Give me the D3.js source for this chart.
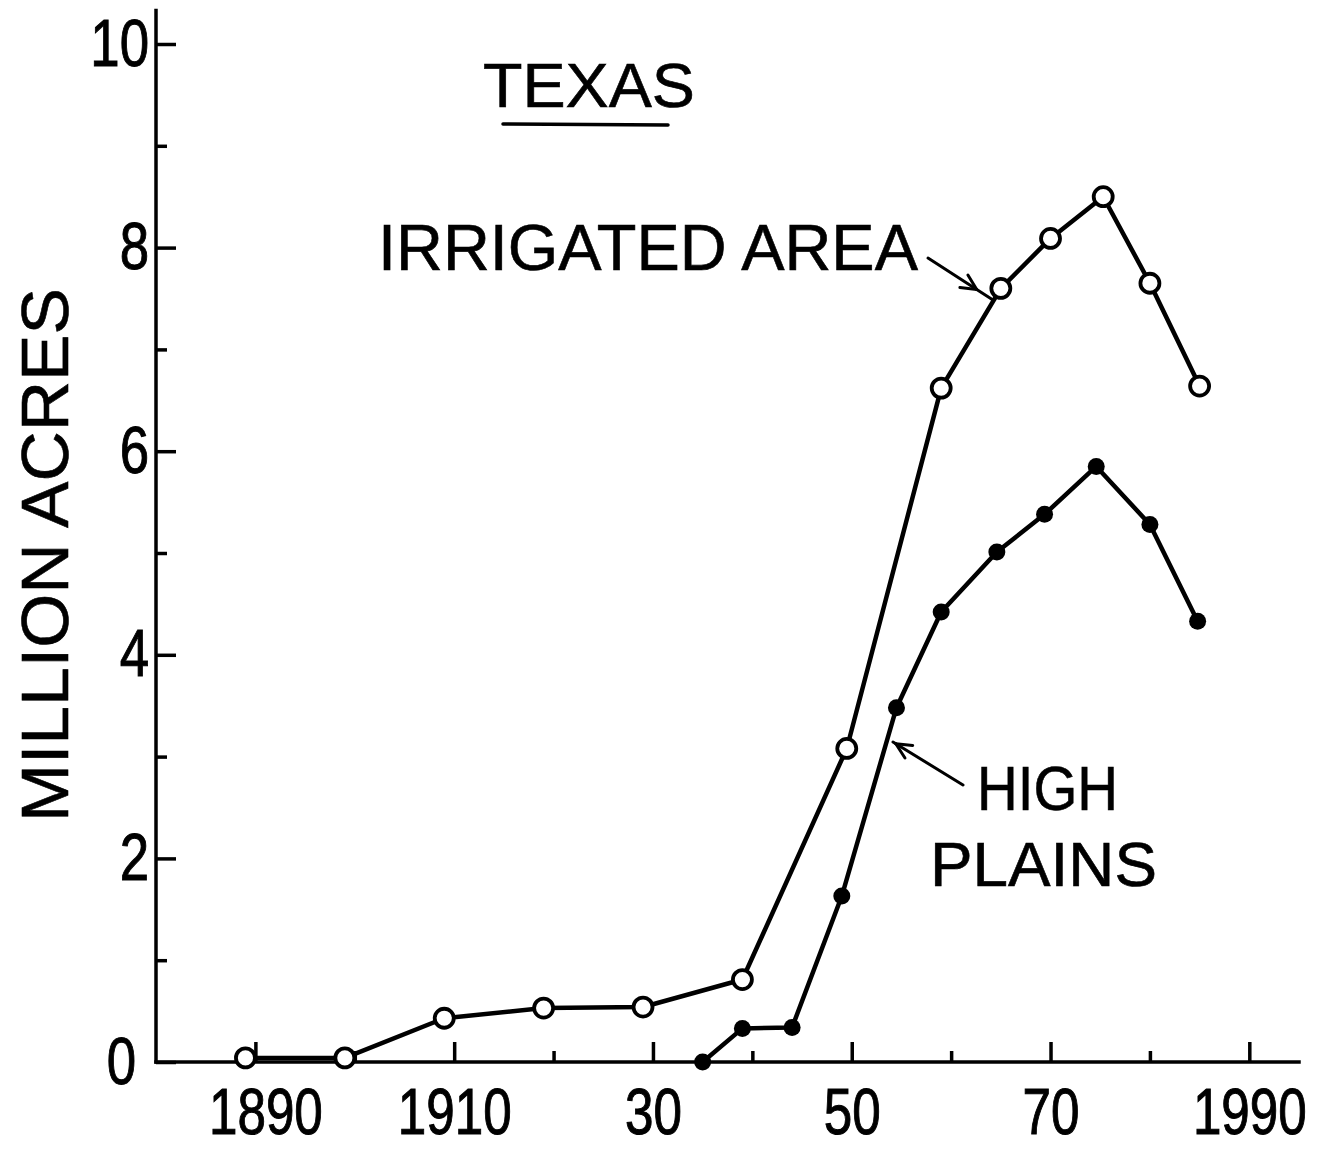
<!DOCTYPE html>
<html>
<head>
<meta charset="utf-8">
<script src="https://cdn.jsdelivr.net/npm/d3@7"></script>
<style>
  html, body { margin: 0; padding: 0; background: #fff; }
  svg { display: block; }
  text { font-family: "Liberation Sans", Arial, sans-serif; fill: #000; }
</style>
</head>
<body>
<svg id="chart" width="1321" height="1151"></svg>
<script>
// ---- Data ----
const irrigatedYears  = [1889, 1899, 1909, 1919, 1929, 1939, 1949.5, 1959, 1965, 1970, 1975.3, 1980, 1985];
const irrigatedValues = [0.04, 0.04, 0.43, 0.53, 0.54, 0.81, 3.08, 6.62, 7.6, 8.09, 8.5, 7.65, 6.64];
const highPlainsYears  = [1935, 1939, 1944, 1949, 1954.5, 1959, 1964.6, 1969.4, 1974.6, 1980, 1984.8];
const highPlainsValues = [0.0, 0.33, 0.34, 1.63, 3.48, 4.42, 5.01, 5.38, 5.85, 5.28, 4.33];
const yMajorTicks = [0, 2, 4, 6, 8, 10];
const yMinorTicks = [1, 3, 5, 7, 9];
const xMajorTicks = [1890, 1910, 1930, 1950, 1970, 1990];
const xTickLabels = ["1890", "1910", "30", "50", "70", "1990"];
const xMinorTicks = [1900, 1920, 1940, 1960, 1980];
const titleText = "TEXAS";
const yTitle = "MILLION ACRES";
const irrigatedLabel = "IRRIGATED AREA";
const highPlainsLabel = ["HIGH", "PLAINS"];

// ---- Scales ----
const svg = d3.select("#chart");
const x = d3.scaleLinear().domain([1880, 1995]).range([156, 1299]);
const y = d3.scaleLinear().domain([0, 10]).range([1062, 44]);

const ink = "#000";
const squeeze = 0.8;

// ---- Y axis ----
const yMajor = d3.axisLeft(y).tickValues(yMajorTicks).tickSizeInner(-20).tickSizeOuter(0).tickPadding(7).tickFormat(d3.format("d"));
const yMinor = d3.axisLeft(y).tickValues(yMinorTicks).tickSizeInner(-11).tickSizeOuter(0).tickFormat("");
const gy = svg.append("g").attr("transform", `translate(${x(1880)},0)`).call(yMajor);
svg.append("g").attr("transform", `translate(${x(1880)},0)`).call(yMinor).select(".domain").remove();
gy.select(".domain").remove();
svg.append("line").attr("x1", x(1880)).attr("x2", x(1880)).attr("y1", y(0)).attr("y2", y(10.33))
  .attr("stroke", ink).attr("stroke-width", 3.5).attr("stroke-linecap", "square");
gy.selectAll(".tick text").attr("font-size", 66).attr("font-family", "Liberation Sans, sans-serif").attr("fill", ink)
  .attr("stroke", ink).attr("stroke-width", 1)
  .each(function () {
    const t = d3.select(this);
    const tx = +t.attr("x");
    t.attr("x", 0).attr("transform", `translate(${tx},0) scale(${squeeze},1)`);
  });
gy.selectAll(".tick").filter(d => d === 0).select("text").attr("transform", `translate(-20,0) scale(${squeeze},1)`);

// ---- X axis ----
const xMajor = d3.axisBottom(x).tickValues(xMajorTicks).tickSizeInner(-20).tickSizeOuter(0).tickPadding(27)
  .tickFormat((d, i) => xTickLabels[i]);
const xMinor = d3.axisBottom(x).tickValues(xMinorTicks).tickSizeInner(-11).tickSizeOuter(0).tickFormat("");
const gx = svg.append("g").attr("transform", `translate(0,${y(0)})`).call(xMajor);
svg.append("g").attr("transform", `translate(0,${y(0)})`).call(xMinor).select(".domain").remove();
gx.select(".domain").remove();
svg.append("line").attr("x1", x(1880)).attr("x2", x(1995)).attr("y1", y(0)).attr("y2", y(0))
  .attr("stroke", ink).attr("stroke-width", 3.5).attr("stroke-linecap", "square");
svg.selectAll(".tick line").attr("stroke", ink).attr("stroke-width", 3.5);
gx.selectAll(".tick text").attr("font-size", 64).attr("font-family", "Liberation Sans, sans-serif").attr("fill", ink)
  .attr("stroke", ink).attr("stroke-width", 1)
  .attr("transform", `scale(${squeeze},1)`)
  .attr("x", 0);
gx.selectAll(".tick").filter(d => d === 1890).select("text").attr("transform", `translate(10,0) scale(${squeeze},1)`);

// ---- Lines ----
const line = d3.line().x(d => x(d[0])).y(d => y(d[1]));
const irr = irrigatedYears.map((yr, i) => [yr, irrigatedValues[i]]);
const hp = highPlainsYears.map((yr, i) => [yr, highPlainsValues[i]]);

svg.append("path").datum(irr).attr("d", line).attr("fill", "none").attr("stroke", ink)
  .attr("stroke-width", 4.5).attr("stroke-linejoin", "round");
svg.append("path").datum(hp).attr("d", line).attr("fill", "none").attr("stroke", ink)
  .attr("stroke-width", 4.5).attr("stroke-linejoin", "round");

svg.append("g").selectAll("circle").data(irr).join("circle")
  .attr("cx", d => x(d[0])).attr("cy", d => y(d[1])).attr("r", 9.5)
  .attr("fill", "#fff").attr("stroke", ink).attr("stroke-width", 3.8);
svg.append("g").selectAll("circle").data(hp).join("circle")
  .attr("cx", d => x(d[0])).attr("cy", d => y(d[1])).attr("r", 8.5)
  .attr("fill", ink);

// ---- Annotations ----
function label(tx, ty, size, len, str, rotate) {
  return svg.append("text")
    .attr("transform", `translate(${tx},${ty})` + (rotate ? " rotate(-90)" : ""))
    .attr("font-size", size).attr("textLength", len).attr("lengthAdjust", "spacingAndGlyphs")
    .attr("stroke", ink).attr("stroke-width", 0.6)
    .text(str);
}
label(483, 107, 63, 212, titleText, false);
svg.append("line").attr("x1", 503).attr("x2", 668).attr("y1", 124).attr("y2", 125)
  .attr("stroke", ink).attr("stroke-width", 3.5).attr("stroke-linecap", "round");

label(68, 822, 66, 534, yTitle, true);
label(378, 270, 65, 540, irrigatedLabel, false);
label(977, 810, 63, 141, highPlainsLabel[0], false);
label(930, 886, 63, 227, highPlainsLabel[1], false);

function arrow(x0, y0, x1, y1, headAt) {
  svg.append("line").attr("x1", x0).attr("y1", y0).attr("x2", x1).attr("y2", y1)
    .attr("stroke", ink).attr("stroke-width", 3).attr("stroke-linecap", "round");
  const hx = x0 + (x1 - x0) * headAt, hy = y0 + (y1 - y0) * headAt;
  const ang = Math.atan2(y1 - y0, x1 - x0);
  [0.45, -0.45].forEach(a => {
    svg.append("line").attr("x1", hx).attr("y1", hy)
      .attr("x2", hx - 17 * Math.cos(ang + a)).attr("y2", hy - 17 * Math.sin(ang + a))
      .attr("stroke", ink).attr("stroke-width", 3).attr("stroke-linecap", "round");
  });
}
arrow(928, 258, 993, 300, 0.75);
arrow(963, 785, 893, 742, 0.96);
</script>
</body>
</html>
